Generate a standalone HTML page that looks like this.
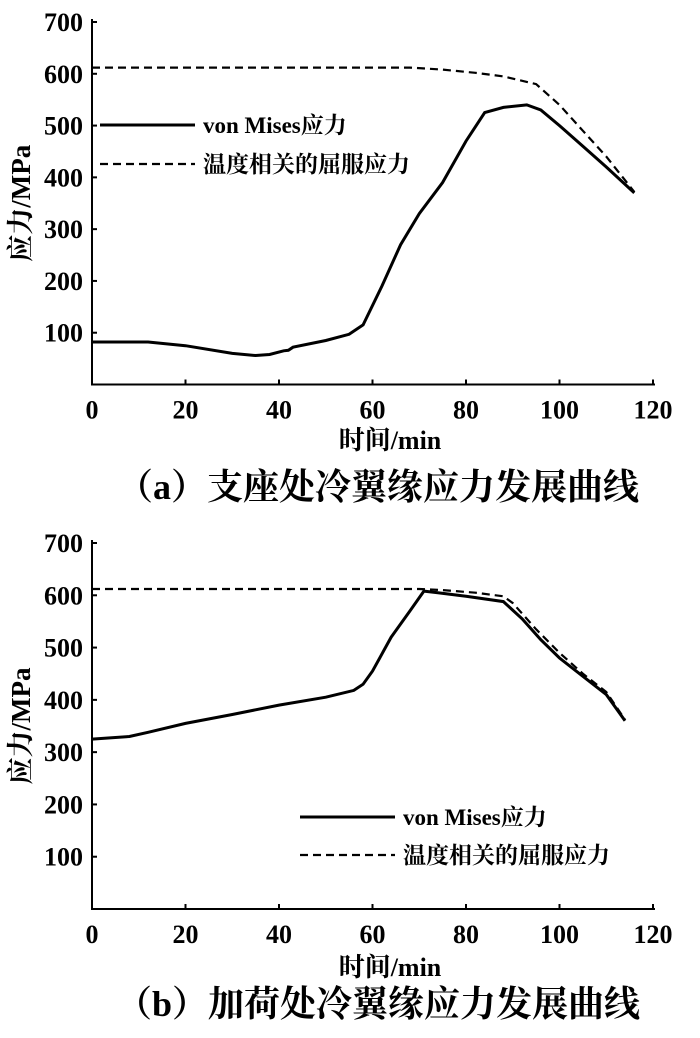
<!DOCTYPE html>
<html><head><meta charset="utf-8"><style>
body{margin:0;background:#fff;}
svg text{font-family:"Liberation Serif","Noto Serif CJK SC",serif;font-weight:bold;fill:#000;}
</style></head><body>
<svg width="700" height="1033" xmlns="http://www.w3.org/2000/svg">
<g id="a"></g>
<g id="b"></g>
<text x="390" y="449" text-anchor="middle" font-size="26">时间/min</text>
<text x="378" y="499" text-anchor="middle" font-size="36">（a）支座处冷翼缘应力发展曲线</text>
<text x="390" y="976" text-anchor="middle" font-size="26">时间/min</text>
<text x="378" y="1016" text-anchor="middle" font-size="36">（b）加荷处冷翼缘应力发展曲线</text>
</svg>
<script>
const xTicks=[0,20,40,60,80,100,120];
const yTicks=[100,200,300,400,500,600,700];
const aVmX=[0,12,20,30,35,38,41,42,43,50,55,58,62,66,70,75,80,84,88,93,96,100,105,110,116];
const aVmY=[82,82,75,60,56,58,65,66,72,85,97,115,190,270,330,390,470,525,535,540,530,500,460,420,370];
const aYdX=[0,60,68,75,82,88,95,100,105,110,116];
const aYdY=[612,612,612,608,602,595,580,540,490,440,372];
const bVmX=[0,8,12,20,30,40,50,56,58,60,64,68,71,74,80,88,92,96,100,105,110,114];
const bVmY=[325,330,338,355,372,390,405,418,430,455,520,570,608,605,598,588,555,515,480,445,410,360];
const bYdX=[0,70,75,82,88,90,95,100,105,110,114];
const bYdY=[612,612,610,605,598,585,535,490,450,415,362];
const NS='http://www.w3.org/2000/svg';
function mk(p,t,a){const e=document.createElementNS(NS,t);for(const k in a)e.setAttribute(k,a[k]);p.appendChild(e);return e;}
function chart(g,y0,y700,vx,vy,dx,dy,leg,nm){
  const X=v=>92+v*(653-92)/120, Y=v=>y0-(y0-y700)*v/700;
  let e=mk(g,'path',{d:`M92,${y700-3}V${y0}H655`,fill:'none',stroke:'#000','stroke-width':2});
  
  xTicks.forEach(t=>{
    mk(g,'line',{x1:X(t),x2:X(t),y1:y0,y2:y0-5,stroke:'#000','stroke-width':2});
    e=mk(g,'text',{x:X(t),y:y0+34,'text-anchor':'middle','font-size':26});e.textContent=t;
    
  });
  yTicks.forEach(t=>{
    mk(g,'line',{x1:92,x2:97,y1:Y(t),y2:Y(t),stroke:'#000','stroke-width':2});
    e=mk(g,'text',{x:83,y:Y(t)+9,'text-anchor':'end','font-size':26});e.textContent=t;
    
  });
  const yc=(y0+y700)/2;
  e=mk(g,'text',{x:0,y:0,'text-anchor':'middle','font-size':27,transform:`translate(30,${yc}) rotate(-90)`});e.textContent='应力/MPa';
  
  const line=(xs,ys,dash,n)=>{const d=xs.map((x,i)=>(i?'L':'M')+X(x).toFixed(1)+','+Y(ys[i]).toFixed(1)).join('');
    const p=mk(g,'path',{d,fill:'none',stroke:'#000','stroke-width':dash?2.2:3,'stroke-dasharray':dash?'8,5':'none'});
    };
  line(dx,dy,true,'yield-stress-line-'+nm);
  line(vx,vy,false,'von-mises-line-'+nm);
  const [lx,ly1,ly2]=leg;
  mk(g,'line',{x1:lx,x2:lx+95,y1:ly1,y2:ly1,stroke:'#000','stroke-width':3});
  mk(g,'line',{x1:lx,x2:lx+95,y1:ly2,y2:ly2,stroke:'#000','stroke-width':2.2,'stroke-dasharray':'8,5'});
  e=mk(g,'text',{x:lx+103,y:ly1+8,'font-size':23});e.textContent='von Mises应力';
  
  e=mk(g,'text',{x:lx+103,y:ly2+8,'font-size':23});e.textContent='温度相关的屈服应力';
  
}
chart(document.getElementById('a'),384.5,22,aVmX,aVmY,aYdX,aYdY,[100,125,164],'a');
chart(document.getElementById('b'),909,543,bVmX,bVmY,bYdX,bYdY,[300,817,855],'b');
</script>
</body></html>
